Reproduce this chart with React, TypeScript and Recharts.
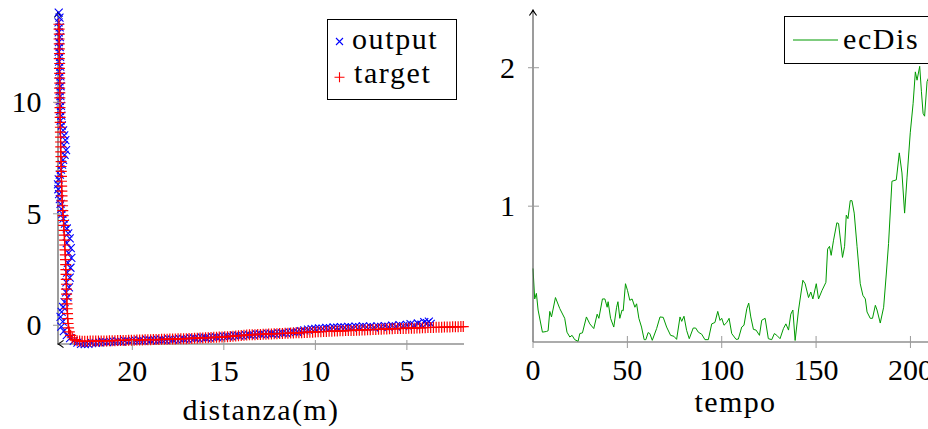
import React from 'react';
import { ScatterChart, Scatter, LineChart, Line, XAxis, YAxis, Legend } from 'recharts';

const FONT = "'Liberation Serif', 'DejaVu Serif', serif";
const AXIS = '#5a5a5a';
const TICK = '#9a9a9a';
const GREEN = '#009a00';

// ---- left plot: trajectory (distanza) ----
const distTicks = [20, 15, 10, 5];
const posTicks = [0, 5, 10];

const outputPoints: [number, number][] = [
  [24.02, 14.02], [23.98, 13.8], [24.03, 13.58], [23.97, 13.36], [24.02, 13.14], [23.96, 12.92], [24.01, 12.7],
  [23.97, 12.48], [24.02, 12.26], [23.95, 12.04], [24.0, 11.82], [23.94, 11.6], [23.99, 11.38], [23.93, 11.16],
  [23.98, 10.94], [23.92, 10.72], [23.97, 10.5], [23.93, 10.28], [23.96, 10.06], [23.9, 9.84], [23.95, 9.62],
  [23.88, 9.4], [23.92, 9.18], [23.85, 8.96], [23.78, 8.74], [23.72, 8.52], [23.66, 8.3], [23.74, 8.08],
  [23.62, 7.86], [23.7, 7.64], [23.78, 7.42], [23.84, 7.2], [23.9, 6.98], [23.96, 6.76], [24.02, 6.54],
  [24.06, 6.32], [24.04, 6.1], [24.0, 5.88], [23.96, 5.66], [23.92, 5.44], [23.88, 5.22], [23.82, 5.0],
  [23.76, 4.78], [23.68, 4.56], [23.58, 4.34], [23.5, 4.12], [23.42, 3.9], [23.58, 3.68], [23.36, 3.46],
  [23.48, 3.24], [23.33, 3.02], [23.52, 2.8], [23.38, 2.58], [23.56, 2.36], [23.42, 2.14], [23.6, 1.92],
  [23.46, 1.7], [23.62, 1.48], [23.54, 1.26], [23.7, 1.04], [23.78, 0.82], [23.86, 0.6], [23.92, 0.38],
  [23.8, 0.16], [23.88, -0.06], [23.74, -0.26], [23.58, -0.44], [23.4, -0.58], [23.2, -0.7], [23.0, -0.78],
  [22.8, -0.83], [22.6, -0.84], [22.4, -0.83], [22.2, -0.8], [22.0, -0.79], [21.8, -0.77], [21.6, -0.75],
  [21.4, -0.76], [21.2, -0.73], [21.0, -0.74], [20.8, -0.71], [20.6, -0.73], [20.4, -0.7], [20.2, -0.71],
  [20.0, -0.69], [19.8, -0.7], [19.6, -0.67], [19.4, -0.69], [19.2, -0.66], [19.0, -0.67], [18.8, -0.65],
  [18.6, -0.66], [18.4, -0.64], [18.2, -0.65], [18.0, -0.63], [17.8, -0.64], [17.6, -0.62], [17.4, -0.62],
  [17.2, -0.61], [17.0, -0.6], [16.8, -0.59], [16.6, -0.58], [16.4, -0.58], [16.2, -0.56], [16.0, -0.56],
  [15.8, -0.55], [15.6, -0.54], [15.4, -0.53], [15.2, -0.52], [15.0, -0.51], [14.8, -0.5], [14.6, -0.49],
  [14.4, -0.47], [14.2, -0.46], [14.0, -0.45], [13.8, -0.44], [13.6, -0.43], [13.4, -0.42], [13.2, -0.41],
  [13.0, -0.4], [12.8, -0.4], [12.6, -0.39], [12.4, -0.38], [12.2, -0.37], [12.0, -0.36], [11.8, -0.35],
  [11.6, -0.34], [11.4, -0.33], [11.2, -0.31], [11.0, -0.29], [10.8, -0.26], [10.6, -0.23], [10.4, -0.2],
  [10.2, -0.17], [10.0, -0.16], [9.8, -0.14], [9.6, -0.15], [9.4, -0.12], [9.2, -0.13], [9.0, -0.1],
  [8.8, -0.11], [8.6, -0.08], [8.4, -0.1], [8.2, -0.07], [8.0, -0.09], [7.8, -0.06], [7.6, -0.08],
  [7.4, -0.05], [7.2, -0.08], [7.0, -0.06], [6.8, -0.09], [6.6, -0.05], [6.4, -0.07], [6.2, -0.04],
  [6.0, -0.07], [5.8, -0.02], [5.6, -0.05], [5.4, 0.01], [5.2, -0.04], [5.0, 0.02], [4.8, 0.05],
  [4.6, 0.0], [4.4, 0.08], [4.2, 0.03], [4.05, 0.14], [3.9, 0.1], [3.8, 0.16], [3.7, 0.06],
];

const targetPoints: [number, number][] = [
  [24.01, 13.5], [24.0, 13.28], [23.99, 13.06], [24.0, 12.84], [23.99, 12.62], [23.99, 12.4], [23.98, 12.18],
  [23.99, 11.96], [23.97, 11.74], [23.98, 11.52], [23.97, 11.3], [23.97, 11.08], [23.96, 10.86], [23.97, 10.64],
  [23.96, 10.42], [23.96, 10.2], [23.95, 9.98], [23.95, 9.76], [23.95, 9.54], [23.94, 9.32], [23.94, 9.1],
  [23.93, 8.88], [23.93, 8.66], [23.92, 8.44], [23.92, 8.22], [23.91, 8.0], [23.91, 7.78], [23.9, 7.56],
  [23.89, 7.34], [23.89, 7.12], [23.88, 6.9], [23.87, 6.68], [23.87, 6.46], [23.86, 6.24], [23.85, 6.02],
  [23.84, 5.8], [23.83, 5.58], [23.81, 5.36], [23.8, 5.14], [23.78, 4.92], [23.76, 4.7], [23.75, 4.48],
  [23.73, 4.26], [23.72, 4.04], [23.7, 3.82], [23.69, 3.6], [23.68, 3.38], [23.66, 3.16], [23.65, 2.94],
  [23.64, 2.72], [23.63, 2.5], [23.62, 2.28], [23.61, 2.06], [23.6, 1.84], [23.6, 1.62], [23.59, 1.4],
  [23.58, 1.18], [23.57, 0.96], [23.56, 0.74], [23.54, 0.52], [23.53, 0.3], [23.51, 0.08], [23.48, -0.12],
  [23.44, -0.3], [23.37, -0.45], [23.28, -0.56], [23.16, -0.64], [23.02, -0.69], [22.88, -0.71], [22.74, -0.72],
  [22.6, -0.72], [22.45, -0.72], [22.3, -0.71], [22.15, -0.71], [22.0, -0.71], [21.85, -0.71], [21.7, -0.7],
  [21.55, -0.7], [21.4, -0.7], [21.25, -0.69], [21.1, -0.69], [20.95, -0.69], [20.8, -0.68], [20.65, -0.68],
  [20.5, -0.68], [20.35, -0.68], [20.2, -0.67], [20.05, -0.67], [19.9, -0.67], [19.75, -0.66], [19.6, -0.66],
  [19.45, -0.66], [19.3, -0.65], [19.15, -0.65], [19.0, -0.65], [18.85, -0.64], [18.7, -0.64], [18.55, -0.64],
  [18.4, -0.63], [18.25, -0.63], [18.1, -0.63], [17.95, -0.62], [17.8, -0.62], [17.65, -0.62], [17.5, -0.61],
  [17.35, -0.61], [17.2, -0.6], [17.05, -0.6], [16.9, -0.59], [16.75, -0.59], [16.6, -0.58], [16.45, -0.58],
  [16.3, -0.57], [16.15, -0.57], [16.0, -0.56], [15.85, -0.56], [15.7, -0.55], [15.55, -0.54], [15.4, -0.54],
  [15.25, -0.53], [15.1, -0.53], [14.95, -0.52], [14.8, -0.51], [14.65, -0.5], [14.5, -0.49], [14.35, -0.48],
  [14.2, -0.47], [14.05, -0.46], [13.9, -0.45], [13.75, -0.44], [13.6, -0.43], [13.45, -0.42], [13.3, -0.42],
  [13.15, -0.41], [13.0, -0.41], [12.85, -0.4], [12.7, -0.4], [12.55, -0.39], [12.4, -0.39], [12.25, -0.38],
  [12.1, -0.38], [11.95, -0.37], [11.8, -0.37], [11.65, -0.36], [11.5, -0.36], [11.35, -0.35], [11.2, -0.35],
  [11.05, -0.34], [10.9, -0.34], [10.75, -0.33], [10.6, -0.32], [10.45, -0.32], [10.3, -0.31], [10.15, -0.31],
  [10.0, -0.3], [9.85, -0.29], [9.7, -0.29], [9.55, -0.28], [9.4, -0.28], [9.25, -0.27], [9.1, -0.27],
  [8.95, -0.26], [8.8, -0.26], [8.65, -0.25], [8.5, -0.25], [8.35, -0.24], [8.2, -0.24], [8.05, -0.23],
  [7.9, -0.23], [7.75, -0.22], [7.6, -0.22], [7.45, -0.21], [7.3, -0.21], [7.15, -0.2], [7.0, -0.2],
  [6.85, -0.19], [6.7, -0.19], [6.55, -0.18], [6.4, -0.18], [6.25, -0.17], [6.1, -0.17], [5.95, -0.16],
  [5.8, -0.16], [5.65, -0.15], [5.5, -0.15], [5.35, -0.14], [5.2, -0.14], [5.05, -0.14], [4.9, -0.13],
  [4.75, -0.13], [4.6, -0.13], [4.45, -0.12], [4.3, -0.12], [4.15, -0.11], [4.0, -0.11], [3.85, -0.1],
  [3.7, -0.1], [3.55, -0.1], [3.4, -0.09], [3.25, -0.09], [3.1, -0.09], [2.95, -0.08], [2.8, -0.08],
  [2.65, -0.08], [2.5, -0.07], [2.35, -0.07], [2.2, -0.07], [2.05, -0.06], [1.92, -0.06],
];

// ---- right plot: ecDis over tempo ----
const tempoTicks = [0, 50, 100, 150, 200];
const ecDisTicks = [1, 2];

const tempo = [
  0, 0.9, 1.8, 2.7, 5.0, 7.1, 8.0, 8.9, 9.8, 11.9,
  14.2, 16.8, 18.0, 19.5, 20.7, 22.1, 23.9, 24.8, 26.2, 28.3,
  30.1, 32.2, 34.0, 34.9, 36.8, 38.1, 39.3, 39.8, 41.1, 42.8,
  44.3, 45.0, 46.0, 47.2, 47.8, 49.0, 50.1, 51.3, 52.5, 54.0,
  54.9, 56.1, 57.5, 58.9, 59.8, 61.0, 61.9, 63.2, 65.5, 67.3,
  69.0, 70.8, 72.9, 74.7, 76.1, 77.9, 78.8, 80.0, 81.4, 82.8,
  84.9, 86.2, 87.6, 89.4, 91.1, 92.9, 94.7, 96.4, 97.9, 99.1,
  100.0, 101.2, 102.7, 103.9, 105.3, 107.6, 108.8, 110.6, 111.8, 113.3,
  114.3, 115.4, 116.8, 118.2, 120.0, 121.2, 123.0, 124.7, 126.5, 127.9,
  129.2, 130.9, 132.7, 134.0, 135.4, 136.6, 137.7, 138.9, 140.7, 143.0,
  144.2, 146.0, 147.2, 148.3, 150.1, 151.3, 153.1, 155.2, 156.1, 157.1,
  158.0, 159.2, 161.0, 161.9, 164.0, 165.1, 166.0, 166.9, 168.1, 169.0,
  170.2, 171.7, 173.4, 174.8, 176.1, 177.0, 178.7, 179.9, 181.4, 182.3,
  184.0, 185.8, 187.2, 188.4, 190.2, 192.5, 194.1, 195.5, 196.9, 198.2,
  199.9, 201.4, 202.6, 203.5, 204.9, 205.8, 206.7, 207.5, 208.8, 210.3,
  211.8, 213.0, 214.4,
];

const ecDis = [
  0.55, 0.33, 0.37, 0.25, 0.09, 0.095, 0.1, 0.24, 0.2, 0.34,
  0.26, 0.19, 0.09, 0.055, 0.067, 0.036, 0.024, 0.08, 0.085, 0.2,
  0.15, 0.116, 0.22, 0.19, 0.33, 0.33, 0.27, 0.31, 0.19, 0.127,
  0.27, 0.31, 0.19, 0.25, 0.245, 0.44, 0.39, 0.32, 0.33, 0.27,
  0.295, 0.19, 0.127, 0.036, 0.036, 0.087, 0.08, 0.031, 0.116, 0.2,
  0.197, 0.127, 0.067, 0.06, 0.038, 0.2, 0.168, 0.205, 0.103, 0.043,
  0.12, 0.12, 0.09, 0.075, 0.036, 0.036, 0.15, 0.16, 0.24, 0.175,
  0.19, 0.14, 0.16, 0.19, 0.08, 0.038, 0.04, 0.127, 0.14, 0.26,
  0.3, 0.2, 0.11, 0.105, 0.067, 0.176, 0.19, 0.043, 0.036, 0.08,
  0.067, 0.043, 0.116, 0.15, 0.105, 0.22, 0.25, 0.03, 0.25, 0.465,
  0.44, 0.34, 0.38, 0.33, 0.44, 0.33, 0.39, 0.45, 0.69, 0.71,
  0.645, 0.75, 0.88, 0.875, 0.63, 0.71, 0.935, 0.91, 1.04, 1.04,
  0.95, 0.71, 0.44, 0.356, 0.33, 0.236, 0.19, 0.19, 0.284, 0.25,
  0.156, 0.27, 0.51, 0.73, 1.18, 1.19, 1.385, 1.24, 0.95, 1.21,
  1.53, 1.74, 1.97, 1.91, 2.01, 1.83, 1.67, 1.65, 1.9, 1.95,
  1.78, 1.84, 1.88,
];

const outputData = outputPoints.map(([x, y]) => ({ x, y }));
const targetData = targetPoints.map(([x, y]) => ({ x, y }));
const ecDisData = tempo.map((t, i) => ({ t, v: ecDis[i] }));

const textStyle = { style: { fontFamily: FONT }, fill: '#000' };

const CrossShape = (p: any) => {
  const { cx, cy } = p;
  const r = 4;
  return (
    <path
      d={`M${cx - r},${cy - r}L${cx + r},${cy + r}M${cx - r},${cy + r}L${cx + r},${cy - r}`}
      stroke="#0000ff"
      strokeWidth={1.1}
      fill="none"
    />
  );
};

const PlusShape = (p: any) => {
  const { cx, cy } = p;
  const r = 5.5;
  return (
    <path
      d={`M${cx - r},${cy}L${cx + r},${cy}M${cx},${cy - r}L${cx},${cy + r}`}
      stroke="#ff0000"
      strokeWidth={1.2}
      fill="none"
    />
  );
};

const LegendCross = () => (
  <path d="M9,19L16,26M9,26L16,19" stroke="#0000ff" strokeWidth={1.1} fill="none" />
);
const LegendPlus = () => (
  <path d="M7.5,58.3L17.5,58.3M12.5,53.3L12.5,63.3" stroke="#ff0000" strokeWidth={1.1} fill="none" />
);

const bottomTick = (up: number, down: number, base: number) => (p: any) => {
  const { x, y, payload } = p;
  return (
    <g>
      <line x1={x} x2={x} y1={y - up} y2={y + down} stroke={TICK} strokeWidth={1} />
      <text x={x} y={y + base} textAnchor="middle" fontSize={30} {...textStyle}>
        {payload.value}
      </text>
    </g>
  );
};

const leftTick = (out: number, inn: number, gap: number) => (p: any) => {
  const { x, y, payload } = p;
  return (
    <g>
      <line x1={x - out} x2={x + inn} y1={y} y2={y} stroke={TICK} strokeWidth={1} />
      <text x={x - gap} y={y + 10} textAnchor="end" fontSize={30} {...textStyle}>
        {payload.value}
      </text>
    </g>
  );
};

const axisTitle = (text: string, offset: number) => (p: any) => {
  const vb = p.viewBox;
  return (
    <text
      x={vb.x + vb.width / 2}
      y={vb.y + vb.height - offset}
      textAnchor="middle"
      fontSize={30}
      letterSpacing={1.4}
      {...textStyle}
    >
      {text}
    </text>
  );
};

const LeftLegend = () => (
  <svg width={131} height={82} style={{ display: 'block' }}>
    <rect x={0.5} y={0.5} width={129} height={80} fill="#fff" stroke="#000" strokeWidth={1} />
    <LegendCross />
    <LegendPlus />
    <text x={25} y={29.5} fontSize={30} letterSpacing={1.6} {...textStyle}>output</text>
    <text x={27} y={64} fontSize={30} letterSpacing={1.6} {...textStyle}>target</text>
  </svg>
);

const RightLegend = () => (
  <svg width={170} height={49} style={{ display: 'block' }}>
    <rect x={0.5} y={0.5} width={160} height={47} fill="#fff" stroke="#000" strokeWidth={1} />
    <line x1={9} x2={54} y1={24} y2={24} stroke={GREEN} strokeWidth={1} />
    <text x={59} y={33} fontSize={30} letterSpacing={1.6} {...textStyle}>ecDis</text>
  </svg>
);

export default function App() {
  return (
    <div style={{ position: 'relative', width: 928, height: 429, overflow: 'hidden', background: '#fff', fontFamily: FONT }}>
      <style>{'body{margin:0;overflow:hidden;background:#fff}'}</style>
      <svg width={0} height={0} style={{ position: 'absolute' }}>
        <defs>
          <marker
            id="axArrow"
            viewBox="-7 -5 8 10"
            refX={0}
            refY={0}
            markerWidth={8}
            markerHeight={10}
            markerUnits="userSpaceOnUse"
            orient="auto-start-reverse"
          >
            <path d="M-5.5,-3.6 Q-1.8,-0.8 0,0 Q-1.8,0.8 -5.5,3.6" stroke="#000" strokeWidth={1.1} fill="none" />
          </marker>
        </defs>
      </svg>

      <div style={{ position: 'absolute', left: 0, top: 0 }}>
        <ScatterChart width={480} height={429} margin={{ top: 12, right: 16, bottom: 0, left: 0 }}>
          <XAxis
            type="number"
            dataKey="x"
            reversed
            domain={[1.88, 24.0]}
            ticks={distTicks}
            interval={0}
            height={85}
            tickSize={0}
            tickMargin={0}
            tickLine={false}
            tick={bottomTick(4, 6, 37)}
            axisLine={{ stroke: AXIS, strokeWidth: 1.2, markerStart: 'url(#axArrow)' }}
            label={{ position: 'insideBottom', content: axisTitle('distanza(m)', 9) }}
          />
          <YAxis
            type="number"
            dataKey="y"
            domain={[-0.84, 14.05]}
            ticks={posTicks}
            interval={0}
            width={58}
            tickSize={0}
            tickMargin={0}
            tickLine={false}
            tick={leftTick(5, 3, 16.5)}
            axisLine={{ stroke: AXIS, strokeWidth: 1.2, markerStart: 'url(#axArrow)' }}
          />
          <Scatter name="output" data={outputData} shape={CrossShape} isAnimationActive={false} />
          <Scatter name="target" data={targetData} shape={PlusShape} isAnimationActive={false} />
          <Legend
            layout="vertical"
            align="center"
            verticalAlign="middle"
            content={() => <LeftLegend />}
            wrapperStyle={{ left: 326.7, top: 19, width: 131, height: 82 }}
          />
        </ScatterChart>
      </div>

      <div style={{ position: 'absolute', left: 470, top: 0 }}>
        <LineChart width={478} height={429} data={ecDisData} margin={{ top: 10, right: 10, bottom: 0, left: 0 }}>
          <XAxis
            type="number"
            dataKey="t"
            domain={[0, 214.6]}
            ticks={tempoTicks}
            interval={0}
            height={87}
            tickSize={0}
            tickMargin={0}
            tickLine={false}
            tick={bottomTick(6, 6, 38)}
            axisLine={{ stroke: AXIS, strokeWidth: 1.2, markerEnd: 'url(#axArrow)' }}
            label={{ position: 'insideBottom', content: axisTitle('tempo', 17) }}
          />
          <YAxis
            type="number"
            dataKey="v"
            domain={[0.019, 2.417]}
            ticks={ecDisTicks}
            interval={0}
            width={63}
            tickSize={0}
            tickMargin={0}
            tickLine={false}
            tick={leftTick(5, 6, 18)}
            axisLine={{ stroke: AXIS, strokeWidth: 1.2, markerStart: 'url(#axArrow)' }}
          />
          <Line
            type="linear"
            dataKey="v"
            name="ecDis"
            stroke={GREEN}
            strokeWidth={1}
            dot={false}
            activeDot={false}
            isAnimationActive={false}
          />
          <Legend
            layout="vertical"
            align="center"
            verticalAlign="middle"
            content={() => <RightLegend />}
            wrapperStyle={{ left: 314, top: 15.5, width: 170, height: 49 }}
          />
        </LineChart>
      </div>
    </div>
  );
}
